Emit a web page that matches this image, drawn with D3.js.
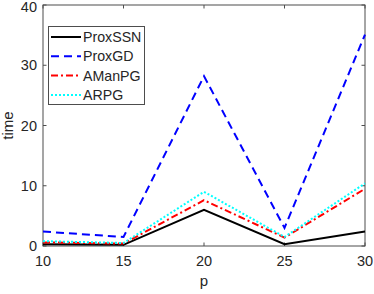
<!DOCTYPE html>
<meta charset="utf-8">
<script src="https://d3js.org/d3.v7.min.js"></script>
<style>
  body { margin: 0; background: #fff; }
  text { font-family: "Liberation Sans", Arial, sans-serif; fill: #262626; }
</style>
<div id="chart"></div>
<script>
// data
const pValues = [10, 15, 20, 25, 30];
const proxSSN = [0.3, 0.2, 6.0, 0.3, 2.4];
const proxGD  = [2.4, 1.5, 28.2, 3.0, 35.1];
const amanPG  = [0.6, 0.4, 7.6, 1.4, 9.5];
const arpg    = [0.8, 0.5, 9.0, 1.5, 10.4];
const xTicks = [10, 15, 20, 25, 30];
const yTicks = [0, 10, 20, 30, 40];

const series = [
  { name: "ProxSSN", values: proxSSN, color: "#000000", dash: null },
  { name: "ProxGD",  values: proxGD,  color: "#0000ff", dash: "8,5" },
  { name: "AManPG",  values: amanPG,  color: "#ff0000", dash: "7,3,2,3" },
  { name: "ARPG",    values: arpg,    color: "#00ffff", dash: "2,2" }
];

const width = 374, height = 294;
const mLeft = 43, mRight = 365, mTop = 5, mBottom = 246;

const svg = d3.select("#chart").append("svg")
  .attr("width", width)
  .attr("height", height);

const x = d3.scaleLinear().domain([10, 30]).range([mLeft, mRight]);
const y = d3.scaleLinear().domain([0, 40]).range([mBottom, mTop]);

const axisColor = "#4d4d4d";

// box
svg.append("rect")
  .attr("x", mLeft).attr("y", mTop)
  .attr("width", mRight - mLeft).attr("height", mBottom - mTop)
  .attr("fill", "none").attr("stroke", axisColor).attr("stroke-width", 1);

// ticks (inward, on all four sides)
const tl = 3.5;
const ticks = svg.append("g").attr("stroke", axisColor).attr("stroke-width", 1);
xTicks.forEach(t => {
  ticks.append("line").attr("x1", x(t)).attr("x2", x(t)).attr("y1", mBottom).attr("y2", mBottom - tl);
  ticks.append("line").attr("x1", x(t)).attr("x2", x(t)).attr("y1", mTop).attr("y2", mTop + tl);
});
yTicks.forEach(t => {
  ticks.append("line").attr("x1", mLeft).attr("x2", mLeft + tl).attr("y1", y(t)).attr("y2", y(t));
  ticks.append("line").attr("x1", mRight).attr("x2", mRight - tl).attr("y1", y(t)).attr("y2", y(t));
});

// tick labels
svg.append("g").selectAll("text").data(xTicks).join("text")
  .attr("x", d => x(d)).attr("y", mBottom + 20)
  .attr("text-anchor", "middle")
  .style("font-size", "14.5px")
  .text(d => d);
svg.append("g").selectAll("text").data(yTicks).join("text")
  .attr("x", mLeft - 6).attr("y", d => Math.max(y(d) + 5, 11.5))
  .attr("text-anchor", "end")
  .style("font-size", "14.5px")
  .text(d => d);

// axis labels
svg.append("text")
  .attr("x", x(20)).attr("y", 286)
  .attr("text-anchor", "middle")
  .style("font-size", "15px")
  .text("p");
svg.append("text")
  .attr("transform", `translate(13,${(mTop + mBottom) / 2}) rotate(-90)`)
  .attr("text-anchor", "middle")
  .style("font-size", "15px")
  .text("time");

// lines
const line = d3.line()
  .x((d, i) => x(pValues[i]))
  .y(d => y(d));

svg.append("g").selectAll("path").data(series).join("path")
  .attr("d", d => line(d.values))
  .attr("fill", "none")
  .attr("stroke", d => d.color)
  .attr("stroke-width", 2)
  .attr("stroke-dasharray", d => d.dash);

// legend
const lg = svg.append("g");
lg.append("rect")
  .attr("x", 48.5).attr("y", 26.5)
  .attr("width", 96).attr("height", 78)
  .attr("fill", "#fff").attr("stroke", axisColor).attr("stroke-width", 1);
series.forEach((s, i) => {
  const ly = 37 + i * 19.3;
  lg.append("line")
    .attr("x1", 51).attr("x2", 81).attr("y1", ly).attr("y2", ly)
    .attr("stroke", s.color).attr("stroke-width", 2)
    .attr("stroke-dasharray", s.dash);
  lg.append("text")
    .attr("x", 83).attr("y", ly + 5)
    .style("font-size", "14.2px")
    .text(s.name);
});
</script>
